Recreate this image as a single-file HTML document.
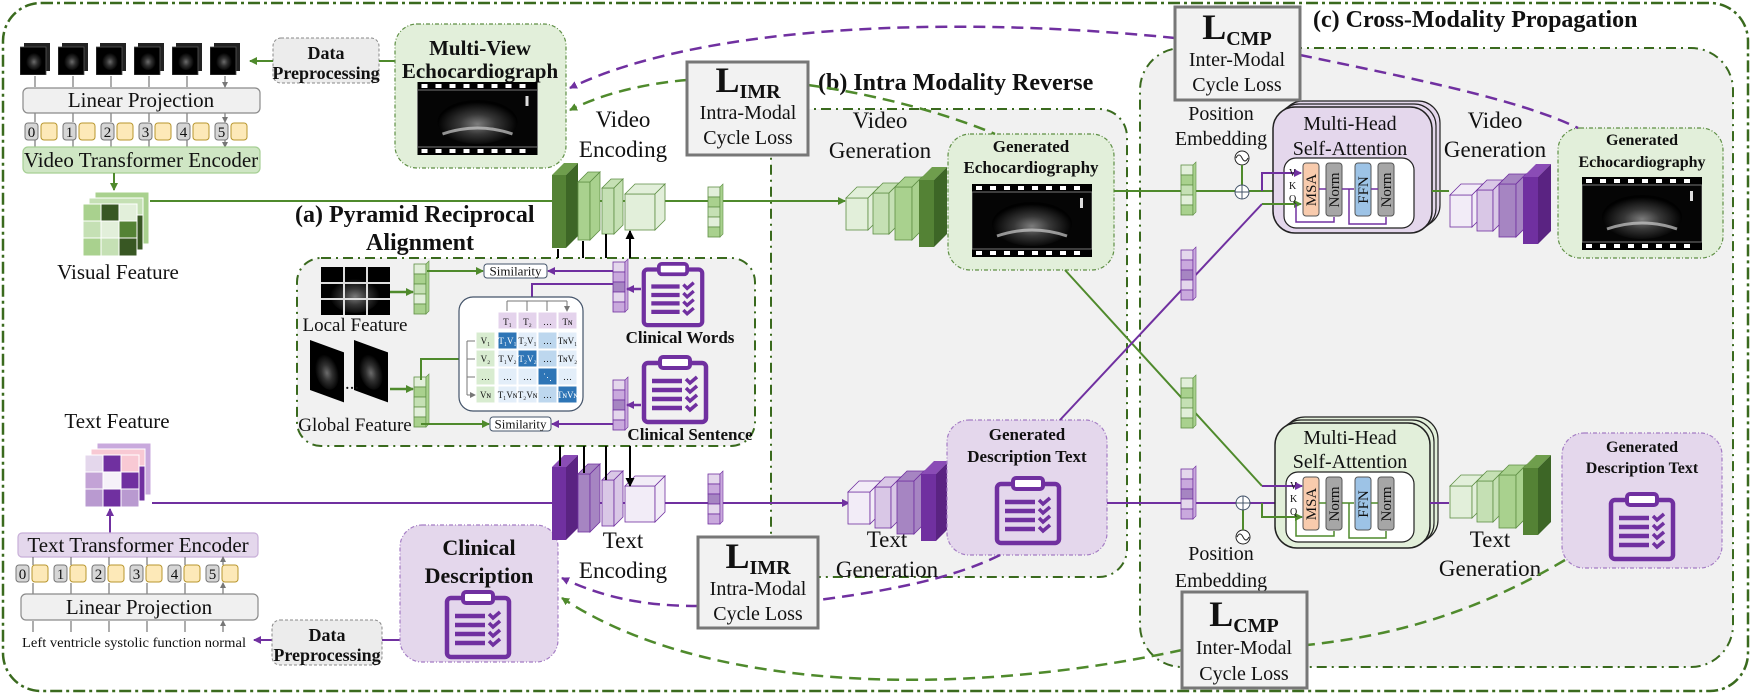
<!DOCTYPE html>
<html><head><meta charset="utf-8"><style>
html,body{margin:0;padding:0;background:#fff}
svg{display:block}
svg text{font-family:"Liberation Serif",serif;fill:#111}
.b{font-weight:bold}
</style></head><body>
<svg width="1751" height="695" viewBox="0 0 1751 695" xmlns="http://www.w3.org/2000/svg" font-family="Liberation Serif, serif">
<defs>
<marker id="ag" markerWidth="8" markerHeight="8" refX="7" refY="4" orient="auto" markerUnits="userSpaceOnUse"><path d="M0,0 L8,4 L0,8z" fill="#4f8a2c"/></marker>
<marker id="ap" markerWidth="8" markerHeight="8" refX="7" refY="4" orient="auto" markerUnits="userSpaceOnUse"><path d="M0,0 L8,4 L0,8z" fill="#7030a0"/></marker>
<marker id="ak" markerWidth="9" markerHeight="9" refX="8" refY="4.5" orient="auto" markerUnits="userSpaceOnUse"><path d="M0,0 L9,4.5 L0,9z" fill="#000"/></marker>
<marker id="ay" markerWidth="6" markerHeight="6" refX="5" refY="3" orient="auto" markerUnits="userSpaceOnUse"><path d="M0,0 L6,3 L0,6z" fill="#777"/></marker>
<radialGradient id="us" cx="50%" cy="55%" r="50%"><stop offset="0" stop-color="#9a9a9a"/><stop offset="0.45" stop-color="#444"/><stop offset="1" stop-color="#000"/></radialGradient>
<symbol id="clip" viewBox="0 0 70 72">
<rect x="4" y="10" width="62" height="59" rx="4" fill="none" stroke="#7030a0" stroke-width="4.5"/>
<rect x="20" y="4" width="30" height="11" rx="3" fill="#fff" stroke="#7030a0" stroke-width="4"/>
<path d="M12,28h30M12,37h30M12,46h30M12,55h30" stroke="#7030a0" stroke-width="4.5"/>
<path d="M46,26l4,4 7,-6M46,35l4,4 7,-6M46,44l4,4 7,-6M46,53l4,4 7,-6" fill="none" stroke="#7030a0" stroke-width="3.5"/>
</symbol>
<symbol id="echo" viewBox="0 0 120 73">
<rect width="120" height="73" fill="#000"/>
<rect x="0" y="8" width="120" height="57" fill="#050505" stroke="#777" stroke-width="1"/>
<g fill="#fff"><rect x="4" y="2" width="6" height="4"/><rect x="18" y="2" width="6" height="4"/><rect x="32" y="2" width="6" height="4"/><rect x="46" y="2" width="6" height="4"/><rect x="60" y="2" width="6" height="4"/><rect x="74" y="2" width="6" height="4"/><rect x="88" y="2" width="6" height="4"/><rect x="102" y="2" width="6" height="4"/>
<rect x="4" y="67" width="6" height="4"/><rect x="18" y="67" width="6" height="4"/><rect x="32" y="67" width="6" height="4"/><rect x="46" y="67" width="6" height="4"/><rect x="60" y="67" width="6" height="4"/><rect x="74" y="67" width="6" height="4"/><rect x="88" y="67" width="6" height="4"/><rect x="102" y="67" width="6" height="4"/></g>
<ellipse cx="60" cy="40" rx="40" ry="22" fill="url(#us)" opacity="0.8"/>
<path d="M25,52 Q60,40 95,52" stroke="#ccc" stroke-width="3" fill="none" opacity="0.7"/>
<rect x="108" y="14" width="3" height="10" fill="#ddd"/>
</symbol>
<symbol id="frame" viewBox="0 0 30 32">
<rect x="4" y="0" width="26" height="28" fill="#222"/>
<rect x="0" y="4" width="26" height="28" fill="#000" stroke="#555" stroke-width="0.8"/>
<ellipse cx="14" cy="18" rx="8" ry="9" fill="url(#us)" opacity="0.7"/>
</symbol>
<g id="pyrA">
<rect x="552" y="175" width="14" height="73" style="fill:var(--a)"/><polygon points="552,175 564,163 578,163 566,175" style="fill:var(--a2)"/><polygon points="566,175 578,163 578,236 566,248" style="fill:var(--a3)"/>
<rect x="578" y="182" width="12" height="58" style="fill:var(--b)" stroke="var(--s)" stroke-width="0.8"/><polygon points="578,182 588,172 600,172 590,182" style="fill:var(--b)" stroke="var(--s)" stroke-width="0.8"/><polygon points="590,182 600,172 600,230 590,240" style="fill:var(--b)" stroke="var(--s)" stroke-width="0.8"/>
<rect x="602" y="188" width="12" height="46" style="fill:var(--c)" stroke="var(--s)" stroke-width="0.8"/><polygon points="602,188 611,179 623,179 614,188" style="fill:var(--c)" stroke="var(--s)" stroke-width="0.8"/><polygon points="614,188 623,179 623,225 614,234" style="fill:var(--c)" stroke="var(--s)" stroke-width="0.8"/>
<rect x="625" y="194" width="30" height="36" style="fill:var(--d)" stroke="var(--s)" stroke-width="0.8"/><polygon points="625,194 635,184 665,184 655,194" style="fill:var(--d)" stroke="var(--s)" stroke-width="0.8"/><polygon points="655,194 665,184 665,220 655,230" style="fill:var(--d)" stroke="var(--s)" stroke-width="0.8"/>
</g>
<g id="pyrB">
<rect x="846" y="198" width="22" height="32" style="fill:var(--d)" stroke="var(--s)" stroke-width="0.8"/><polygon points="846,198 857,187 879,187 868,198" style="fill:var(--d)" stroke="var(--s)" stroke-width="0.8"/><polygon points="868,198 879,187 879,219 868,230" style="fill:var(--d)" stroke="var(--s)" stroke-width="0.8"/>
<rect x="873" y="193" width="16" height="41" style="fill:var(--c)" stroke="var(--s)" stroke-width="0.8"/><polygon points="873,193 883,183 899,183 889,193" style="fill:var(--c)" stroke="var(--s)" stroke-width="0.8"/><polygon points="889,193 899,183 899,224 889,234" style="fill:var(--c)" stroke="var(--s)" stroke-width="0.8"/>
<rect x="895" y="187" width="17" height="53" style="fill:var(--b)" stroke="var(--s)" stroke-width="0.8"/><polygon points="895,187 905,177 922,177 912,187" style="fill:var(--b)" stroke="var(--s)" stroke-width="0.8"/><polygon points="912,187 922,177 922,230 912,240" style="fill:var(--b)" stroke="var(--s)" stroke-width="0.8"/>
<rect x="919" y="180" width="15" height="67" style="fill:var(--a)"/><polygon points="919,180 932,167 947,167 934,180" style="fill:var(--a2)"/><polygon points="934,180 947,167 947,234 934,247" style="fill:var(--a3)"/>
</g>
<g id="vec">
<rect x="0" y="0" width="12" height="10" style="fill:var(--v1)" stroke="var(--s)" stroke-width="0.8"/>
<rect x="0" y="10" width="12" height="10" style="fill:var(--v2)" stroke="var(--s)" stroke-width="0.8"/>
<rect x="0" y="20" width="12" height="10" style="fill:var(--v3)" stroke="var(--s)" stroke-width="0.8"/>
<rect x="0" y="30" width="12" height="10" style="fill:var(--v1)" stroke="var(--s)" stroke-width="0.8"/>
<rect x="0" y="40" width="12" height="10" style="fill:var(--v2)" stroke="var(--s)" stroke-width="0.8"/>
<polygon points="12,0 15,-3 15,47 12,50" style="fill:var(--v2)" stroke="var(--s)" stroke-width="0.6"/>
</g>
</defs>

<rect x="3" y="3" width="1745" height="688" rx="38" fill="none" stroke="#3a6a1e" stroke-width="2.5" stroke-dasharray="12,4,3,4"/>

<rect x="1140" y="48" width="593" height="619" rx="42" fill="#f1f1f1" stroke="#3a6a1e" stroke-width="2" stroke-dasharray="10,5,2,5"/>
<rect x="771" y="109" width="356" height="468" rx="28" fill="#f1f1f1" stroke="#3a6a1e" stroke-width="2" stroke-dasharray="10,5,2,5"/>
<rect x="297" y="258" width="458" height="188" rx="24" fill="#f1f1f1" stroke="#3a6a1e" stroke-width="2" stroke-dasharray="10,5,2,5"/>

<text x="1313" y="27" font-size="24" class="b">(c) Cross-Modality Propagation</text>
<text x="818" y="90" font-size="24" class="b">(b) Intra Modality Reverse</text>
<text x="295" y="222" font-size="24" class="b">(a) Pyramid Reciprocal</text>
<text x="420" y="250" font-size="24" class="b" text-anchor="middle">Alignment</text>

<use href="#frame" x="20" y="43" width="30" height="32"/>
<use href="#frame" x="58" y="43" width="30" height="32"/>
<use href="#frame" x="96" y="43" width="30" height="32"/>
<use href="#frame" x="134" y="43" width="30" height="32"/>
<use href="#frame" x="172" y="43" width="30" height="32"/>
<use href="#frame" x="210" y="43" width="30" height="32"/>
<g stroke="#777" stroke-width="1.2" marker-end="url(#ay)">
<path d="M35,76V87M73,76V87M111,76V87M149,76V87M187,76V87M225,76V87"/>
<path d="M35,113V122M73,113V122M111,113V122M149,113V122M187,113V122M225,113V122"/>
<path d="M35,140V147M73,140V147M111,140V147M149,140V147M187,140V147M225,140V147"/>
</g>
<rect x="23" y="88" width="237" height="25" rx="5" fill="#f0f0f0" stroke="#8a8a8a" stroke-width="1.2"/>
<text x="141" y="107" font-size="21" text-anchor="middle">Linear Projection</text>
<g font-size="15">
<g><rect x="25" y="123" width="13" height="17" rx="3" fill="#d6d6d6" stroke="#777"/><text x="31.5" y="137" text-anchor="middle">0</text><rect x="41" y="123" width="16" height="17" rx="3" fill="#fde9b8" stroke="#b8962e"/></g>
<g transform="translate(38,0)"><rect x="25" y="123" width="13" height="17" rx="3" fill="#d6d6d6" stroke="#777"/><text x="31.5" y="137" text-anchor="middle">1</text><rect x="41" y="123" width="16" height="17" rx="3" fill="#fde9b8" stroke="#b8962e"/></g>
<g transform="translate(76,0)"><rect x="25" y="123" width="13" height="17" rx="3" fill="#d6d6d6" stroke="#777"/><text x="31.5" y="137" text-anchor="middle">2</text><rect x="41" y="123" width="16" height="17" rx="3" fill="#fde9b8" stroke="#b8962e"/></g>
<g transform="translate(114,0)"><rect x="25" y="123" width="13" height="17" rx="3" fill="#d6d6d6" stroke="#777"/><text x="31.5" y="137" text-anchor="middle">3</text><rect x="41" y="123" width="16" height="17" rx="3" fill="#fde9b8" stroke="#b8962e"/></g>
<g transform="translate(152,0)"><rect x="25" y="123" width="13" height="17" rx="3" fill="#d6d6d6" stroke="#777"/><text x="31.5" y="137" text-anchor="middle">4</text><rect x="41" y="123" width="16" height="17" rx="3" fill="#fde9b8" stroke="#b8962e"/></g>
<g transform="translate(190,0)"><rect x="25" y="123" width="13" height="17" rx="3" fill="#d6d6d6" stroke="#777"/><text x="31.5" y="137" text-anchor="middle">5</text><rect x="41" y="123" width="16" height="17" rx="3" fill="#fde9b8" stroke="#b8962e"/></g>
</g>
<rect x="23" y="147" width="237" height="26" rx="5" fill="#cfe6c4" stroke="#a6cf95" stroke-width="1.2"/>
<text x="141" y="167" font-size="21" text-anchor="middle">Video Transformer Encoder</text>
<path d="M114,173V190" stroke="#4f8a2c" stroke-width="2" marker-end="url(#ag)"/>

<g stroke="#fff" stroke-width="1">
<g transform="translate(12,-12)"><rect x="83" y="204" width="54" height="52" fill="#a9d18e"/></g>
<g transform="translate(6,-6)"><rect x="83" y="204" width="54" height="52" fill="#c5e0b4"/><rect x="119" y="221" width="18" height="35" fill="#385723"/></g>
<rect x="83" y="204" width="18" height="17" fill="#a9d18e"/><rect x="101" y="204" width="18" height="17" fill="#385723"/><rect x="119" y="204" width="18" height="17" fill="#e2efda"/>
<rect x="83" y="221" width="18" height="17" fill="#c5e0b4"/><rect x="101" y="221" width="18" height="17" fill="#e2efda"/><rect x="119" y="221" width="18" height="17" fill="#548235"/>
<rect x="83" y="238" width="18" height="18" fill="#a9d18e"/><rect x="101" y="238" width="18" height="18" fill="#c5e0b4"/><rect x="119" y="238" width="18" height="18" fill="#385723"/>
</g>
<text x="118" y="279" font-size="21" text-anchor="middle">Visual Feature</text>
<path d="M150,201H845" stroke="#4f8a2c" stroke-width="2" marker-end="url(#ag)"/>

<rect x="273" y="38" width="106" height="45" rx="8" fill="#ececec" stroke="#888" stroke-dasharray="3,2"/>
<text x="326" y="59" font-size="18" class="b" text-anchor="middle">Data</text>
<text x="326" y="79" font-size="18" class="b" text-anchor="middle">Preprocessing</text>
<path d="M395,61H379" stroke="#4f8a2c" stroke-width="2"/>
<path d="M273,61H250" stroke="#4f8a2c" stroke-width="2" marker-end="url(#ag)"/>
<rect x="395" y="24" width="171" height="144" rx="22" fill="#e2efda" stroke="#5f8f45" stroke-width="1.2" stroke-dasharray="4,2,1,2"/>
<text x="480" y="55" font-size="21" class="b" text-anchor="middle">Multi-View</text>
<text x="480" y="78" font-size="21" class="b" text-anchor="middle">Echocardiograph</text>
<use href="#echo" x="417" y="82" width="121" height="73"/>

<text x="623" y="127" font-size="23" text-anchor="middle">Video</text>
<text x="623" y="157" font-size="23" text-anchor="middle">Encoding</text>
<use href="#pyrA" style="--a:#548235;--a2:#6f9e4d;--a3:#3d6626;--b:#a9d18e;--c:#c5e0b4;--d:#e2efda;--s:#5f8f45"/>
<g stroke="#000" stroke-width="2" marker-end="url(#ak)">
<path d="M558,258V249M583,258V241M606,258V234M630,258V231"/>
</g>
<use href="#vec" x="708" y="187" style="--v1:#e2efda;--v2:#a9d18e;--v3:#c5e0b4;--s:#5f8f45"/>

<rect x="321" y="267" width="69" height="48" fill="#000"/>
<ellipse cx="355" cy="295" rx="25" ry="18" fill="url(#us)" opacity="0.8"/>
<path d="M344,267V315M367,267V315M321,283H390M321,299H390" stroke="#ddd" stroke-width="2"/>
<text x="355" y="331" font-size="19" text-anchor="middle">Local Feature</text>
<path d="M390,292H413" stroke="#4f8a2c" stroke-width="2.5" marker-end="url(#ag)"/>
<use href="#vec" x="414" y="264" style="--v1:#e2efda;--v2:#a9d18e;--v3:#c5e0b4;--s:#5f8f45"/>
<path d="M427,271H483" stroke="#4f8a2c" stroke-width="2" marker-end="url(#ag)"/>
<rect x="484" y="264" width="63" height="14" rx="3" fill="#fff" stroke="#44546a"/>
<text x="515.5" y="275.5" font-size="13" text-anchor="middle">Similarity</text>
<path d="M613,271H548" stroke="#7030a0" stroke-width="2" marker-end="url(#ap)"/>
<use href="#vec" x="613" y="262" style="--v1:#e4d7ec;--v2:#c9a9dd;--v3:#a685c2;--s:#7030a0"/>
<path d="M641,289H627" stroke="#7030a0" stroke-width="2.5" marker-end="url(#ap)"/>
<use href="#clip" x="640" y="258" width="66" height="72"/>
<text x="680" y="343" font-size="17" class="b" text-anchor="middle">Clinical Words</text>
<path d="M613,284H532V297" stroke="#7030a0" stroke-width="2" fill="none"/>

<g transform="translate(310,350) skewY(20)"><rect x="0" y="-10" width="34" height="50" fill="#000"/><ellipse cx="17" cy="15" rx="12" ry="18" fill="url(#us)" opacity="0.7"/></g>
<g transform="translate(354,350) skewY(20)"><rect x="0" y="-10" width="34" height="50" fill="#000"/><ellipse cx="17" cy="15" rx="12" ry="18" fill="url(#us)" opacity="0.7"/></g>
<text x="345" y="389" font-size="14" class="b">…</text>
<text x="355" y="431" font-size="19" text-anchor="middle">Global Feature</text>
<path d="M390,389H413" stroke="#4f8a2c" stroke-width="2.5" marker-end="url(#ag)"/>
<use href="#vec" x="414" y="377" style="--v1:#e2efda;--v2:#a9d18e;--v3:#c5e0b4;--s:#5f8f45"/>
<path d="M421,380V359H460" stroke="#4f8a2c" stroke-width="2" fill="none"/>
<path d="M421,424H489" stroke="#4f8a2c" stroke-width="2" fill="none" marker-end="url(#ag)"/>
<rect x="490" y="417" width="61" height="14" rx="3" fill="#fff" stroke="#44546a"/>
<text x="520.5" y="428.5" font-size="13" text-anchor="middle">Similarity</text>
<path d="M613,424H552" stroke="#7030a0" stroke-width="2" marker-end="url(#ap)"/>
<use href="#vec" x="613" y="380" style="--v1:#e4d7ec;--v2:#c9a9dd;--v3:#a685c2;--s:#7030a0"/>
<path d="M641,405H627" stroke="#7030a0" stroke-width="2.5" marker-end="url(#ap)"/>
<use href="#clip" x="640" y="353" width="70" height="72"/>
<text x="690" y="440" font-size="17" class="b" text-anchor="middle">Clinical Sentence</text>

<rect x="459" y="297" width="124" height="114" rx="14" fill="#fff" stroke="#44546a" stroke-width="1.2"/>
<g stroke="#777" stroke-width="1" marker-end="url(#ay)"><path d="M507,301V311M527,301V311M547,301V311M567,301V311"/><path d="M467,341H475M467,359H475M467,377H475M467,395H475"/></g>
<path d="M507,301H567M467,341V395" stroke="#777"/>
<g fill="#e4d3ec" stroke="#fff"><rect x="498" y="312" width="19" height="17"/><rect x="518" y="312" width="19" height="17"/><rect x="538" y="312" width="19" height="17"/><rect x="558" y="312" width="19" height="17"/></g>
<g fill="#d8ecd0" stroke="#fff"><rect x="476" y="332" width="19" height="17"/><rect x="476" y="350" width="19" height="17"/><rect x="476" y="368" width="19" height="17"/><rect x="476" y="386" width="19" height="17"/></g>
<g stroke="#fff">
<rect x="498" y="332" width="19" height="17" fill="#2e75b6"/><rect x="518" y="332" width="19" height="17" fill="#e3eef9"/><rect x="538" y="332" width="19" height="17" fill="#bdd7ee"/><rect x="558" y="332" width="19" height="17" fill="#e3eef9"/>
<rect x="498" y="350" width="19" height="17" fill="#e3eef9"/><rect x="518" y="350" width="19" height="17" fill="#2e75b6"/><rect x="538" y="350" width="19" height="17" fill="#bdd7ee"/><rect x="558" y="350" width="19" height="17" fill="#e3eef9"/>
<rect x="498" y="368" width="19" height="17" fill="#e3eef9"/><rect x="518" y="368" width="19" height="17" fill="#e3eef9"/><rect x="538" y="368" width="19" height="17" fill="#2e75b6"/><rect x="558" y="368" width="19" height="17" fill="#e3eef9"/>
<rect x="498" y="386" width="19" height="17" fill="#e3eef9"/><rect x="518" y="386" width="19" height="17" fill="#e3eef9"/><rect x="538" y="386" width="19" height="17" fill="#bdd7ee"/><rect x="558" y="386" width="19" height="17" fill="#2e75b6"/>
</g>
<g font-size="9" text-anchor="middle">
<text x="507.5" y="325">T₁</text><text x="527.5" y="325">T₂</text><text x="547.5" y="325">…</text><text x="567.5" y="325">Tɴ</text>
<text x="485.5" y="344">V₁</text><text x="485.5" y="362">V₂</text><text x="485.5" y="380">…</text><text x="485.5" y="398">Vɴ</text>
<text x="507.5" y="344" style="fill:#fff">T₁V₁</text><text x="527.5" y="344">T₂V₁</text><text x="547.5" y="344">…</text><text x="567.5" y="344">TɴV₁</text>
<text x="507.5" y="362">T₁V₂</text><text x="527.5" y="362" style="fill:#fff">T₂V₂</text><text x="547.5" y="362">…</text><text x="567.5" y="362">TɴV₂</text>
<text x="507.5" y="380">…</text><text x="527.5" y="380">…</text><text x="547.5" y="380" style="fill:#fff">⋱</text><text x="567.5" y="380">…</text>
<text x="507.5" y="398">T₁Vɴ</text><text x="527.5" y="398">T₂Vɴ</text><text x="547.5" y="398">…</text><text x="567.5" y="398" style="fill:#fff">TɴVɴ</text>
</g>

<text x="117" y="428" font-size="21" text-anchor="middle">Text Feature</text>
<g stroke="#fff" stroke-width="1">
<g transform="translate(12,-12)"><rect x="85" y="455" width="54" height="52" fill="#c9a9dd"/></g>
<g transform="translate(6,-6)"><rect x="85" y="455" width="54" height="52" fill="#f8c9d4"/><rect x="121" y="472" width="18" height="35" fill="#7030a0"/></g>
<rect x="85" y="455" width="18" height="17" fill="#e4d7ec"/><rect x="103" y="455" width="18" height="17" fill="#7030a0"/><rect x="121" y="455" width="18" height="17" fill="#f8c9d4"/>
<rect x="85" y="472" width="18" height="17" fill="#c3a3d6"/><rect x="103" y="472" width="18" height="17" fill="#f6f1f9"/><rect x="121" y="472" width="18" height="17" fill="#7030a0"/>
<rect x="85" y="489" width="18" height="18" fill="#b99ad0"/><rect x="103" y="489" width="18" height="18" fill="#7030a0"/><rect x="121" y="489" width="18" height="18" fill="#b99ad0"/>
</g>
<path d="M110,533V509" stroke="#7030a0" stroke-width="2" marker-end="url(#ap)"/>
<path d="M152,503H849" stroke="#7030a0" stroke-width="2" marker-end="url(#ap)"/>
<rect x="18" y="533" width="240" height="24" rx="4" fill="#e4d7ec" stroke="#c8afd8" stroke-width="1.2"/>
<text x="138" y="552" font-size="21" text-anchor="middle">Text Transformer Encoder</text>
<g font-size="15">
<g transform="translate(-9,442)"><rect x="25" y="123" width="13" height="17" rx="3" fill="#d6d6d6" stroke="#777"/><text x="31.5" y="137" text-anchor="middle">0</text><rect x="41" y="123" width="16" height="17" rx="3" fill="#fde9b8" stroke="#b8962e"/></g>
<g transform="translate(29,442)"><rect x="25" y="123" width="13" height="17" rx="3" fill="#d6d6d6" stroke="#777"/><text x="31.5" y="137" text-anchor="middle">1</text><rect x="41" y="123" width="16" height="17" rx="3" fill="#fde9b8" stroke="#b8962e"/></g>
<g transform="translate(67,442)"><rect x="25" y="123" width="13" height="17" rx="3" fill="#d6d6d6" stroke="#777"/><text x="31.5" y="137" text-anchor="middle">2</text><rect x="41" y="123" width="16" height="17" rx="3" fill="#fde9b8" stroke="#b8962e"/></g>
<g transform="translate(105,442)"><rect x="25" y="123" width="13" height="17" rx="3" fill="#d6d6d6" stroke="#777"/><text x="31.5" y="137" text-anchor="middle">3</text><rect x="41" y="123" width="16" height="17" rx="3" fill="#fde9b8" stroke="#b8962e"/></g>
<g transform="translate(143,442)"><rect x="25" y="123" width="13" height="17" rx="3" fill="#d6d6d6" stroke="#777"/><text x="31.5" y="137" text-anchor="middle">4</text><rect x="41" y="123" width="16" height="17" rx="3" fill="#fde9b8" stroke="#b8962e"/></g>
<g transform="translate(181,442)"><rect x="25" y="123" width="13" height="17" rx="3" fill="#d6d6d6" stroke="#777"/><text x="31.5" y="137" text-anchor="middle">5</text><rect x="41" y="123" width="16" height="17" rx="3" fill="#fde9b8" stroke="#b8962e"/></g>
</g>
<g stroke="#777" stroke-width="1.2" marker-end="url(#ay)">
<path d="M33,565V557M71,565V557M109,565V557M147,565V557M185,565V557M223,565V557"/>
<path d="M33,594V583M71,594V583M109,594V583M147,594V583M185,594V583M223,594V583"/>
<path d="M33,632V621M71,632V621M109,632V621M147,632V621M185,632V621M223,632V621"/>
</g>
<rect x="21" y="594" width="237" height="26" rx="5" fill="#f0f0f0" stroke="#8a8a8a" stroke-width="1.2"/>
<text x="139" y="614" font-size="21" text-anchor="middle">Linear Projection</text>
<text x="22" y="647" font-size="14" textLength="224" lengthAdjust="spacingAndGlyphs">Left  ventricle systolic  function normal</text>
<path d="M272,640H254" stroke="#7030a0" stroke-width="2" marker-end="url(#ap)"/>
<rect x="272" y="620" width="110" height="45" rx="8" fill="#ececec" stroke="#888" stroke-dasharray="3,2"/>
<text x="327" y="641" font-size="18" class="b" text-anchor="middle">Data</text>
<text x="327" y="661" font-size="18" class="b" text-anchor="middle">Preprocessing</text>
<path d="M400,640H382" stroke="#7030a0" stroke-width="2"/>
<rect x="400" y="525" width="158" height="137" rx="22" fill="#e4d7ec" stroke="#a47cc4" stroke-width="1.2" stroke-dasharray="4,2,1,2"/>
<text x="479" y="555" font-size="22" class="b" text-anchor="middle">Clinical</text>
<text x="479" y="583" font-size="22" class="b" text-anchor="middle">Description</text>
<use href="#clip" x="443" y="588" width="70" height="72"/>

<text x="623" y="548" font-size="23" text-anchor="middle">Text</text>
<text x="623" y="578" font-size="23" text-anchor="middle">Encoding</text>
<use href="#pyrA" transform="translate(0,292)" style="--a:#7030a0;--a2:#8a4cb6;--a3:#5a2382;--b:#a685c2;--c:#d9c7e6;--d:#f2ecf7;--s:#7030a0"/>
<g stroke="#000" stroke-width="2" marker-end="url(#ak)">
<path d="M560,446V466M584,446V473M606,446V480M630,446V486"/>
</g>
<use href="#vec" x="708" y="474" style="--v1:#e4d7ec;--v2:#c9a9dd;--v3:#a685c2;--s:#7030a0"/>

<text x="880" y="128" font-size="23" text-anchor="middle">Video</text>
<text x="880" y="158" font-size="23" text-anchor="middle">Generation</text>
<use href="#pyrB" style="--a:#548235;--a2:#6f9e4d;--a3:#3d6626;--b:#a9d18e;--c:#c5e0b4;--d:#e2efda;--s:#5f8f45"/>
<rect x="948" y="134" width="166" height="136" rx="22" fill="#e2efda" stroke="#5f8f45" stroke-width="1.2" stroke-dasharray="4,2,1,2"/>
<text x="1031" y="152" font-size="17" class="b" text-anchor="middle">Generated</text>
<text x="1031" y="173" font-size="17" class="b" text-anchor="middle">Echocardiography</text>
<use href="#echo" x="972" y="184" width="120" height="73"/>

<text x="887" y="547" font-size="23" text-anchor="middle">Text</text>
<text x="887" y="577" font-size="23" text-anchor="middle">Generation</text>
<use href="#pyrB" transform="translate(2,294)" style="--a:#7030a0;--a2:#8a4cb6;--a3:#5a2382;--b:#a685c2;--c:#d9c7e6;--d:#f2ecf7;--s:#7030a0"/>
<rect x="947" y="420" width="160" height="135" rx="22" fill="#e4d7ec" stroke="#a47cc4" stroke-width="1.2" stroke-dasharray="4,2,1,2"/>
<text x="1027" y="440" font-size="17" class="b" text-anchor="middle">Generated</text>
<text x="1027" y="462" font-size="17" class="b" text-anchor="middle">Description Text</text>
<use href="#clip" x="993" y="474" width="70" height="72"/>

<path d="M1114,191H1274" stroke="#4f8a2c" stroke-width="2"/>
<path d="M1107,503H1275" stroke="#7030a0" stroke-width="2"/>
<path d="M1065,270L1262,486" stroke="#4f8a2c" stroke-width="2"/>
<path d="M1060,420L1262,204" stroke="#7030a0" stroke-width="2"/>
<use href="#vec" x="1181" y="165" style="--v1:#e2efda;--v2:#a9d18e;--v3:#c5e0b4;--s:#5f8f45"/>
<use href="#vec" x="1181" y="250" style="--v1:#e4d7ec;--v2:#c9a9dd;--v3:#a685c2;--s:#7030a0"/>
<use href="#vec" x="1181" y="378" style="--v1:#e2efda;--v2:#a9d18e;--v3:#c5e0b4;--s:#5f8f45"/>
<use href="#vec" x="1181" y="469" style="--v1:#e4d7ec;--v2:#c9a9dd;--v3:#a685c2;--s:#7030a0"/>

<text x="1221" y="120" font-size="20" text-anchor="middle">Position</text>
<text x="1221" y="145" font-size="20" text-anchor="middle">Embedding</text>
<circle cx="1242" cy="158" r="7" fill="#fff" stroke="#222"/><path d="M1236,158q3,-6 6,0t6,0" fill="none" stroke="#222"/>
<path d="M1242,165V185" stroke="#4f8a2c" stroke-width="2"/>
<circle cx="1242" cy="192" r="7" fill="#fff" stroke="#44546a"/><path d="M1235,192h14M1242,185v14" stroke="#44546a"/>
<text x="1221" y="560" font-size="20" text-anchor="middle">Position</text>
<text x="1221" y="587" font-size="20" text-anchor="middle">Embedding</text>
<circle cx="1243" cy="537" r="7" fill="#fff" stroke="#222"/><path d="M1237,537q3,-6 6,0t6,0" fill="none" stroke="#222"/>
<path d="M1243,510V530" stroke="#4f8a2c" stroke-width="2"/>
<circle cx="1243" cy="503" r="7" fill="#fff" stroke="#44546a"/><path d="M1236,503h14M1243,496v14" stroke="#44546a"/>

<rect x="1281" y="101" width="159" height="126" rx="22" fill="#e4d7ec" stroke="#222" stroke-width="1.2"/>
<rect x="1277" y="104" width="159" height="126" rx="22" fill="#e4d7ec" stroke="#222" stroke-width="1.2"/>
<rect x="1273" y="107" width="159" height="126" rx="22" fill="#e4d7ec" stroke="#222" stroke-width="1.5"/>
<text x="1350" y="130" font-size="20" text-anchor="middle">Multi-Head</text>
<text x="1350" y="155" font-size="20" text-anchor="middle">Self-Attention</text>
<rect x="1284" y="158" width="130" height="70" rx="12" fill="#fff" stroke="#222" stroke-width="1.2"/>
<path d="M1262,191V173H1301" stroke="#7030a0" stroke-width="2" fill="none" marker-end="url(#ap)"/>
<path d="M1262,204H1301" stroke="#4f8a2c" stroke-width="2" marker-end="url(#ag)"/>
<text x="1289" y="176" font-size="10">V</text><text x="1289" y="189" font-size="10">K</text><text x="1289" y="202" font-size="10">Q</text>
<rect x="1303" y="163" width="16" height="53" rx="3" fill="#f8cbad" stroke="#555"/>
<rect x="1326" y="163" width="16" height="53" rx="3" fill="#a6a6a6" stroke="#555"/>
<rect x="1355" y="163" width="16" height="53" rx="3" fill="#9dc3e6" stroke="#555"/>
<rect x="1378" y="163" width="16" height="53" rx="3" fill="#a6a6a6" stroke="#555"/>
<text transform="translate(1316,190) rotate(-90)" font-size="15" text-anchor="middle">MSA</text>
<text transform="translate(1339,190) rotate(-90)" font-size="15" text-anchor="middle">Norm</text>
<text transform="translate(1368,190) rotate(-90)" font-size="15" text-anchor="middle">FFN</text>
<text transform="translate(1391,190) rotate(-90)" font-size="15" text-anchor="middle">Norm</text>
<path d="M1319,189H1326M1342,189H1354M1371,189H1378M1296,204V222H1334V217M1349,189V224H1386V217" stroke="#7030a0" stroke-width="1.5" fill="none"/>
<path d="M1432,191H1449" stroke="#4f8a2c" stroke-width="2"/>

<rect x="1283" y="417" width="155" height="125" rx="22" fill="#e2efda" stroke="#222" stroke-width="1.2"/>
<rect x="1279" y="420" width="155" height="125" rx="22" fill="#e2efda" stroke="#222" stroke-width="1.2"/>
<rect x="1275" y="423" width="155" height="125" rx="22" fill="#e2efda" stroke="#222" stroke-width="1.5"/>
<text x="1350" y="444" font-size="20" text-anchor="middle">Multi-Head</text>
<text x="1350" y="468" font-size="20" text-anchor="middle">Self-Attention</text>
<rect x="1286" y="472" width="128" height="70" rx="12" fill="#fff" stroke="#222" stroke-width="1.2"/>
<path d="M1262,486H1302" stroke="#7030a0" stroke-width="2" marker-end="url(#ap)"/>
<path d="M1262,503V517H1302" stroke="#4f8a2c" stroke-width="2" fill="none" marker-end="url(#ag)"/>
<text x="1290" y="489" font-size="10">V</text><text x="1290" y="502" font-size="10">K</text><text x="1290" y="515" font-size="10">Q</text>
<rect x="1303" y="477" width="16" height="53" rx="3" fill="#f8cbad" stroke="#555"/>
<rect x="1326" y="477" width="16" height="53" rx="3" fill="#a6a6a6" stroke="#555"/>
<rect x="1355" y="477" width="16" height="53" rx="3" fill="#9dc3e6" stroke="#555"/>
<rect x="1378" y="477" width="16" height="53" rx="3" fill="#a6a6a6" stroke="#555"/>
<text transform="translate(1316,504) rotate(-90)" font-size="15" text-anchor="middle">MSA</text>
<text transform="translate(1339,504) rotate(-90)" font-size="15" text-anchor="middle">Norm</text>
<text transform="translate(1368,504) rotate(-90)" font-size="15" text-anchor="middle">FFN</text>
<text transform="translate(1391,504) rotate(-90)" font-size="15" text-anchor="middle">Norm</text>
<path d="M1319,503H1326M1342,503H1354M1371,503H1378M1296,517V536H1334V531M1349,503V538H1386V531" stroke="#4f8a2c" stroke-width="1.5" fill="none"/>
<path d="M1430,503H1449" stroke="#7030a0" stroke-width="2"/>

<text x="1495" y="128" font-size="23" text-anchor="middle">Video</text>
<text x="1495" y="157" font-size="23" text-anchor="middle">Generation</text>
<use href="#pyrB" transform="translate(604,-3)" style="--a:#7030a0;--a2:#8a4cb6;--a3:#5a2382;--b:#a685c2;--c:#d9c7e6;--d:#f2ecf7;--s:#7030a0"/>
<rect x="1558" y="128" width="165" height="130" rx="22" fill="#e2efda" stroke="#5f8f45" stroke-width="1.2" stroke-dasharray="4,2,1,2"/>
<text x="1642" y="145" font-size="16" class="b" text-anchor="middle">Generated</text>
<text x="1642" y="167" font-size="16" class="b" text-anchor="middle">Echocardiography</text>
<use href="#echo" x="1582" y="177" width="120" height="73"/>

<text x="1490" y="547" font-size="23" text-anchor="middle">Text</text>
<text x="1490" y="576" font-size="23" text-anchor="middle">Generation</text>
<use href="#pyrB" transform="translate(604,288)" style="--a:#548235;--a2:#6f9e4d;--a3:#3d6626;--b:#a9d18e;--c:#c5e0b4;--d:#e2efda;--s:#5f8f45"/>
<rect x="1562" y="433" width="160" height="135" rx="22" fill="#e4d7ec" stroke="#a47cc4" stroke-width="1.2" stroke-dasharray="4,2,1,2"/>
<text x="1642" y="452" font-size="16" class="b" text-anchor="middle">Generated</text>
<text x="1642" y="473" font-size="16" class="b" text-anchor="middle">Description Text</text>
<use href="#clip" x="1607" y="490" width="70" height="72"/>

<g fill="none" stroke-width="2.5" stroke-dasharray="12,7">
<path d="M1175,38 C950,15 700,25 570,88" stroke="#7030a0" marker-end="url(#ap)"/>
<path d="M1300,55 C1420,80 1520,100 1578,128" stroke="#7030a0"/>
<path d="M687,80 C640,84 600,95 570,110" stroke="#4f8a2c" marker-end="url(#ag)"/>
<path d="M808,85 C880,95 950,115 995,134" stroke="#4f8a2c"/>
<path d="M1000,555 C950,580 880,592 818,600" stroke="#7030a0"/>
<path d="M698,606 C640,606 600,596 562,578" stroke="#7030a0" marker-end="url(#ap)"/>
<path d="M1182,650 C950,700 700,690 562,598" stroke="#4f8a2c" marker-end="url(#ag)"/>
<path d="M1565,560 C1480,610 1400,635 1307,645" stroke="#4f8a2c"/>
</g>

<rect x="687" y="62" width="121" height="93" fill="#f2f2f2" stroke="#777" stroke-width="3"/>
<text x="748" y="92" text-anchor="middle" class="b" font-size="36">L<tspan font-size="20" dy="6">IMR</tspan></text>
<text x="748" y="119" font-size="20" text-anchor="middle">Intra-Modal</text>
<text x="748" y="144" font-size="20" text-anchor="middle">Cycle Loss</text>

<rect x="698" y="537" width="120" height="91" fill="#f2f2f2" stroke="#777" stroke-width="3"/>
<text x="758" y="568" text-anchor="middle" class="b" font-size="36">L<tspan font-size="20" dy="6">IMR</tspan></text>
<text x="758" y="595" font-size="20" text-anchor="middle">Intra-Modal</text>
<text x="758" y="620" font-size="20" text-anchor="middle">Cycle Loss</text>

<rect x="1175" y="7" width="125" height="93" fill="#f2f2f2" stroke="#777" stroke-width="3"/>
<text x="1237" y="39" text-anchor="middle" class="b" font-size="36">L<tspan font-size="20" dy="6">CMP</tspan></text>
<text x="1237" y="66" font-size="20" text-anchor="middle">Inter-Modal</text>
<text x="1237" y="91" font-size="20" text-anchor="middle">Cycle Loss</text>

<rect x="1182" y="592" width="125" height="96" fill="#f2f2f2" stroke="#777" stroke-width="3"/>
<text x="1244" y="626" text-anchor="middle" class="b" font-size="36">L<tspan font-size="20" dy="6">CMP</tspan></text>
<text x="1244" y="654" font-size="20" text-anchor="middle">Inter-Modal</text>
<text x="1244" y="680" font-size="20" text-anchor="middle">Cycle Loss</text>
</svg>
</body></html>
